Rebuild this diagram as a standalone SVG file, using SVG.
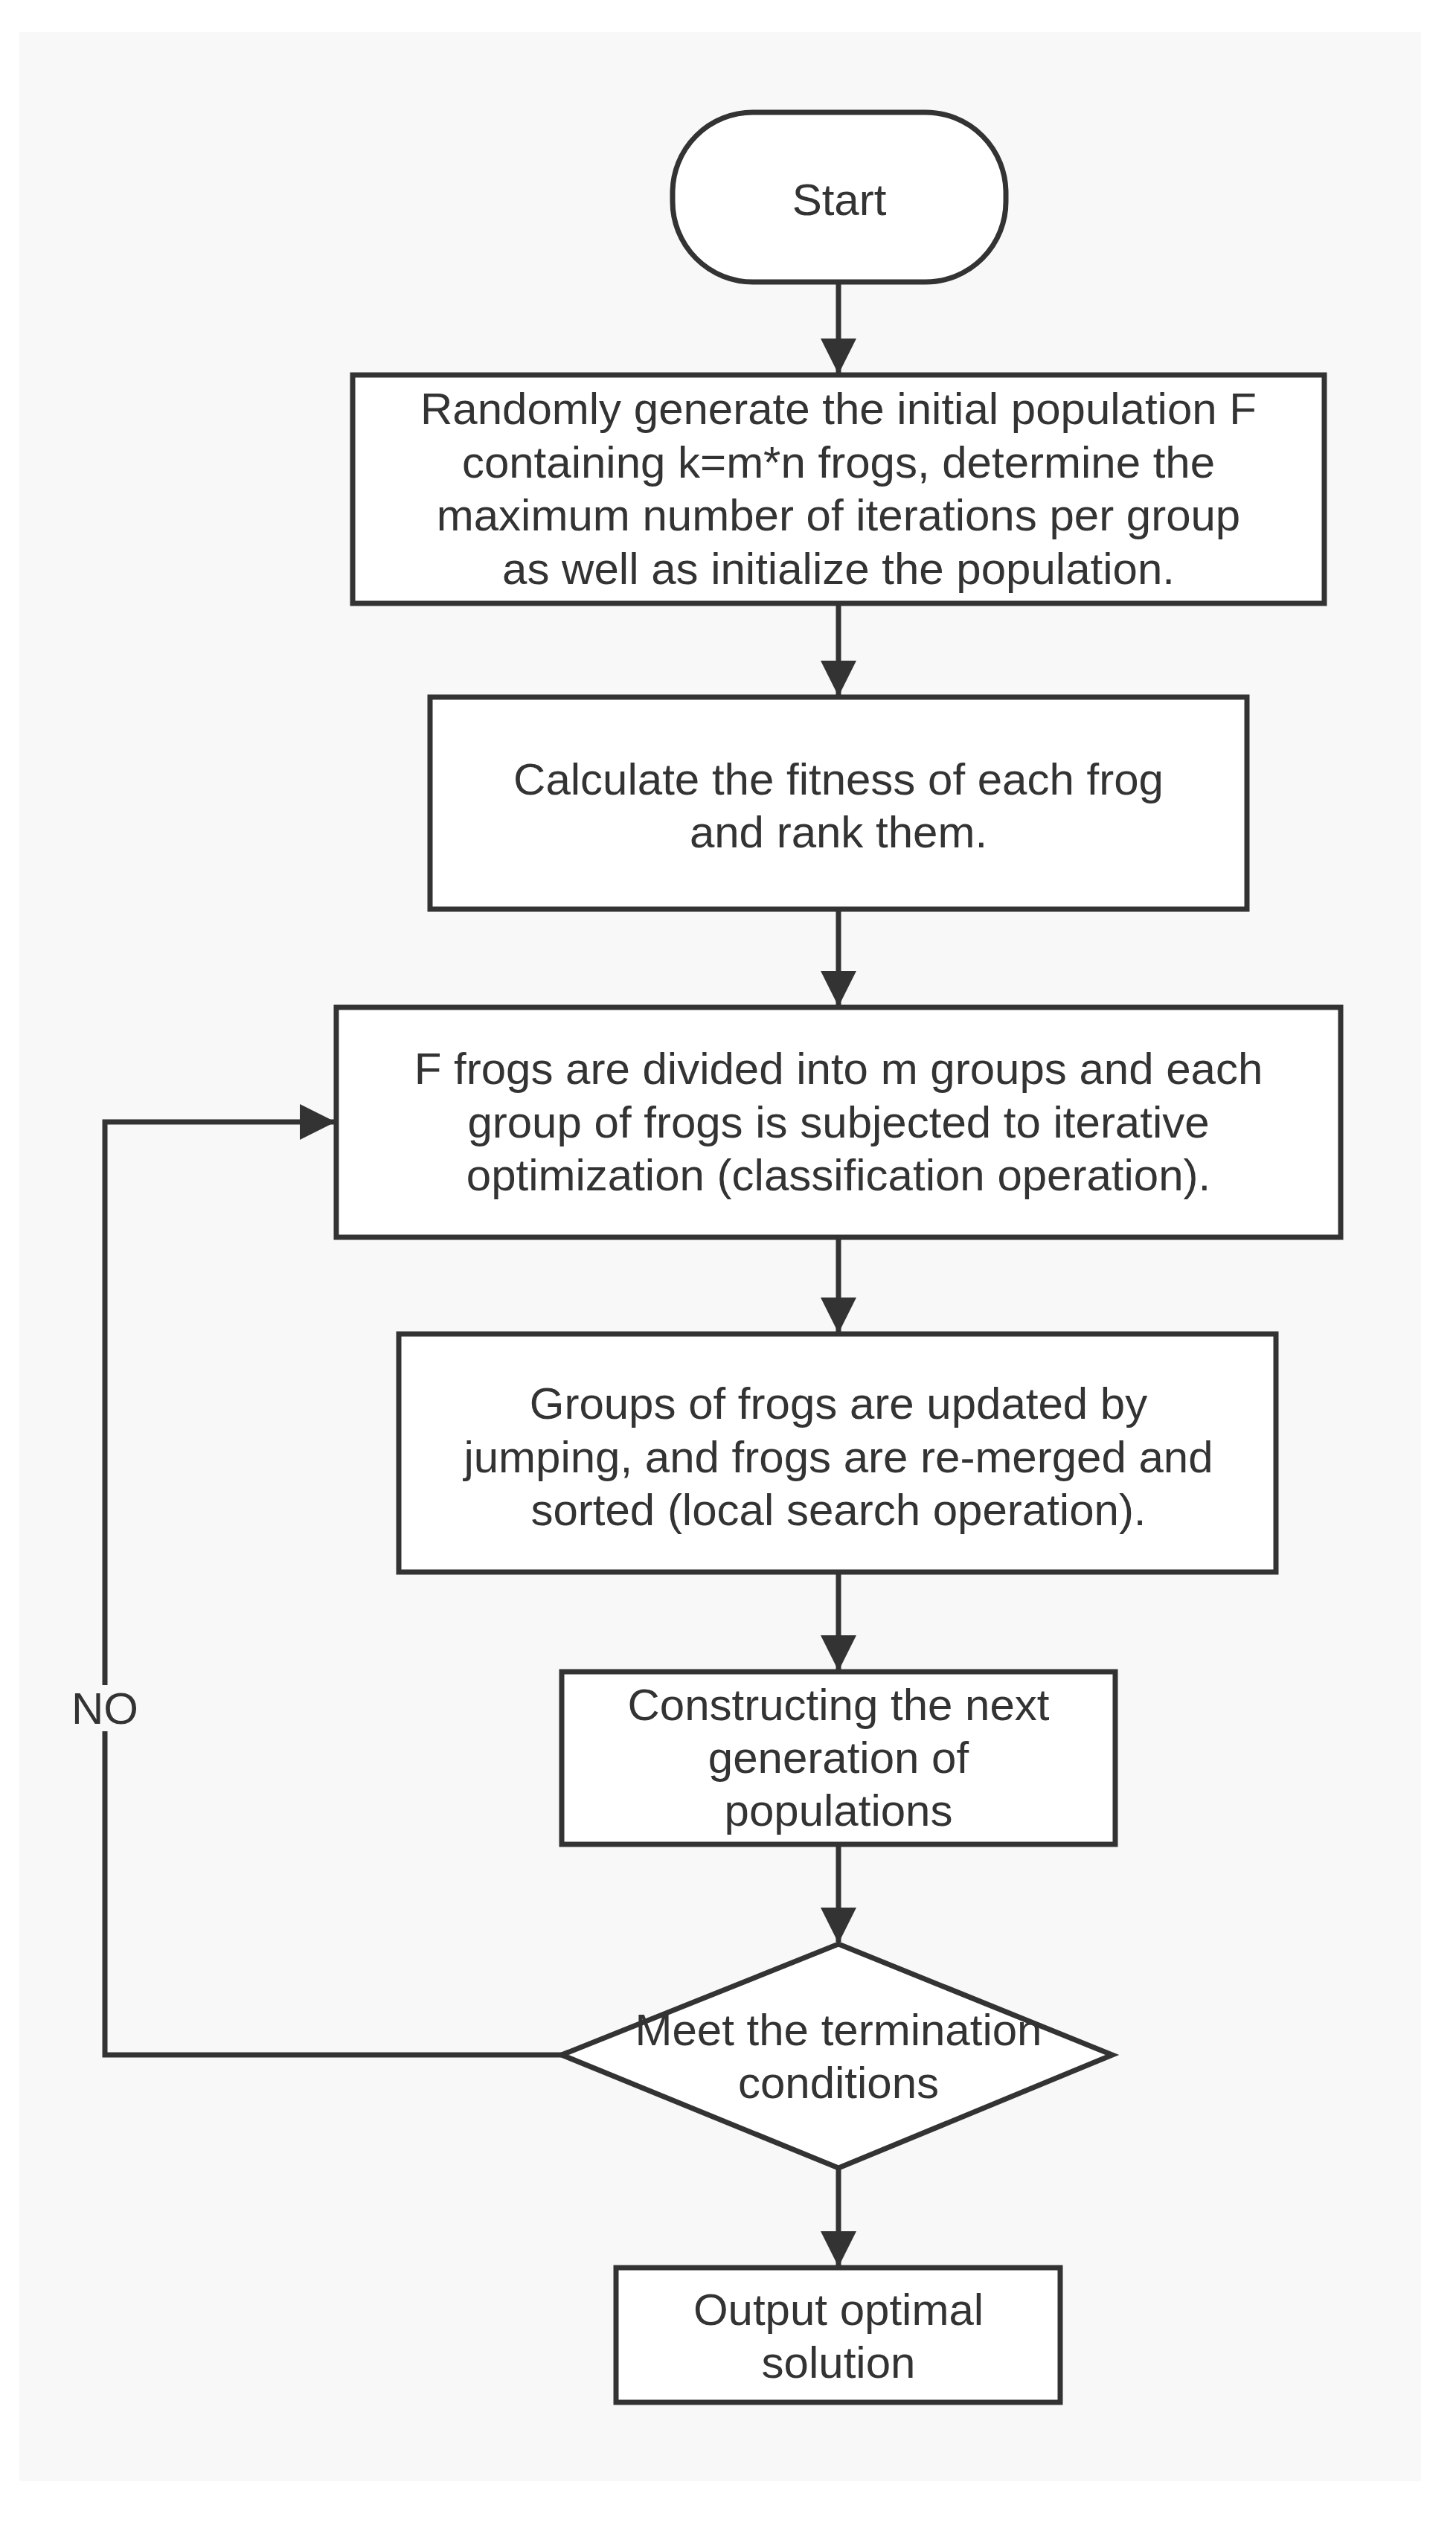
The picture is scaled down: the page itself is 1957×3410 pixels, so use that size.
<svg xmlns="http://www.w3.org/2000/svg" width="1957" height="3410" viewBox="0 0 1957 3410">
<style>
.n{fill:#fff;stroke:#333;stroke-width:7}
.t{font-family:"Liberation Sans",Arial,sans-serif;font-size:60px;fill:#333;text-anchor:middle;dominant-baseline:central}
.c{fill:none;stroke:#333;stroke-width:7}
</style>
<defs><marker id="a" markerUnits="userSpaceOnUse" markerWidth="48" markerHeight="48" refX="46" refY="24" orient="auto"><path d="M0,0 L48,24 L0,48 Z" fill="#333"/></marker></defs>
<rect width="1957" height="3410" fill="#fff"/>
<rect x="26" y="43" width="1884" height="3292" fill="#f8f8f8"/>
<g id="connectors">
<path class="c" d="M1127,379 V501" marker-end="url(#a)"/>
<path class="c" d="M1127,811 V934" marker-end="url(#a)"/>
<path class="c" d="M1127,1222 V1351" marker-end="url(#a)"/>
<path class="c" d="M1127,1663 V1790" marker-end="url(#a)"/>
<path class="c" d="M1127,2113 V2244" marker-end="url(#a)"/>
<path class="c" d="M1127,2479 V2610" marker-end="url(#a)"/>
<path class="c" d="M1127,2914 V3045" marker-end="url(#a)"/>
<path class="c" d="M755,2762 H141 V1508 H449" marker-end="url(#a)"/>
<rect x="105" y="2265" width="72" height="62" fill="#f8f8f8"/>
<text class="t" x="141" y="2296">NO</text>
</g>
<g id="start"><rect class="n" x="904" y="151" width="448" height="228" rx="108"/><text class="t" x="1128" y="268">Start</text></g>
<g id="init"><rect class="n" x="474" y="504" width="1306" height="307"/>
<text class="t" x="1127" y="549">Randomly generate the initial population F</text>
<text class="t" x="1127" y="621">containing k=m*n frogs, determine the</text>
<text class="t" x="1127" y="692">maximum number of iterations per group</text>
<text class="t" x="1127" y="764">as well as initialize the population.</text></g>
<g id="fitness"><rect class="n" x="578" y="937" width="1098" height="285"/>
<text class="t" x="1127" y="1047">Calculate the fitness of each frog</text>
<text class="t" x="1127" y="1118">and rank them.</text></g>
<g id="divide"><rect class="n" x="452" y="1354" width="1350" height="309"/>
<text class="t" x="1127" y="1436">F frogs are divided into m groups and each</text>
<text class="t" x="1127" y="1508">group of frogs is subjected to iterative</text>
<text class="t" x="1127" y="1579">optimization (classification operation).</text></g>
<g id="update"><rect class="n" x="536" y="1793" width="1179" height="320"/>
<text class="t" x="1127" y="1886">Groups of frogs are updated by</text>
<text class="t" x="1127" y="1958">jumping, and frogs are re-merged and</text>
<text class="t" x="1127" y="2029">sorted (local search operation).</text></g>
<g id="construct"><rect class="n" x="755" y="2247" width="744" height="232"/>
<text class="t" x="1127" y="2291">Constructing the next</text>
<text class="t" x="1127" y="2362">generation of</text>
<text class="t" x="1127" y="2433">populations</text></g>
<g id="decision"><polygon class="n" points="1127,2613 1495,2762 1127,2914 755,2762"/>
<text class="t" x="1127" y="2728">Meet the termination</text>
<text class="t" x="1127" y="2799">conditions</text></g>
<g id="output"><rect class="n" x="828" y="3048" width="597" height="181"/>
<text class="t" x="1127" y="3104">Output optimal</text>
<text class="t" x="1127" y="3175">solution</text></g>
</svg>
